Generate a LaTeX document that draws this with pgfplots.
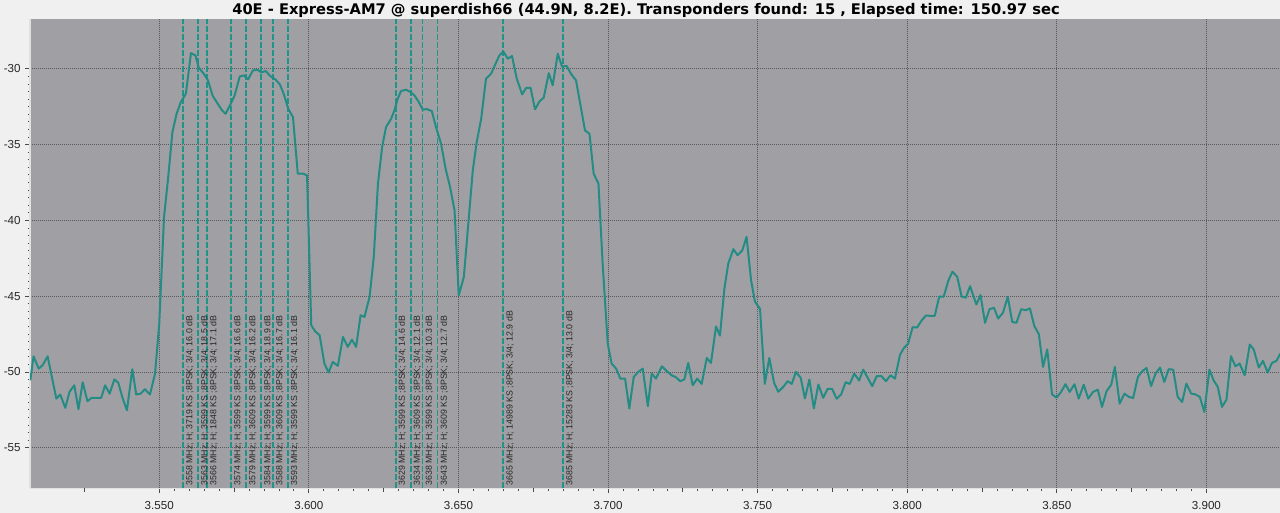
\documentclass[border=0pt]{standalone}
\usepackage{fontspec}
\setmainfont{Liberation Sans}
\newfontfamily\titlefont{DejaVu Sans}
\usepackage{pgfplots}
\pgfplotsset{compat=1.18}
\definecolor{qtgray}{HTML}{A0A0A4}
\definecolor{winbg}{HTML}{F0F0F0}
\definecolor{trace}{RGB}{36,140,132}
\definecolor{tpline}{RGB}{30,148,138}

% 1 px of the reference = 0.75pt; axis box origin = reference pixel (30, 488.5)
\begin{document}
\begin{tikzpicture}
\path[use as bounding box, fill=winbg] (-22.5pt,-18.375pt) rectangle (937.5pt,366.375pt);
\node[font=\titlefont\bfseries\fontsize{11}{13}\selectfont, anchor=base, inner sep=0pt] at (462pt,355.6pt)
  {40E - Express-AM7 @ superdish66 (44.9N, 8.2E). Transponders found: 15 , Elapsed time: 150.97 sec};
\begin{axis}[
  at={(0pt,0pt)}, anchor=south west,
  scale only axis, width=937.5pt, height=352.1pt,
  xmin=3.5068, xmax=3.9246, ymin=-57.69, ymax=-26.72,
  axis background/.style={fill=qtgray},
  axis x line*=bottom, axis y line*=left,
  axis line style={white!88!black, line width=1.2pt},
  xtick={3.55,3.60,3.65,3.70,3.75,3.80,3.85,3.90},
  xticklabels={3.550,3.600,3.650,3.700,3.750,3.800,3.850,3.900},
  extra x ticks={3.525,3.575,3.625,3.675,3.725,3.775,3.825,3.875},
  extra x tick labels={},
  extra x tick style={grid=none, major tick length=2.6pt},
  ytick={-55,-50,-45,-40,-35,-30},
  yticklabels={-55,-50,-45,-40,-35,-30},
  minor x tick num=9, minor y tick num=9,
  tick align=outside,
  major tick length=3.5pt, minor tick length=1.8pt,
  tick style={black!70, line width=0.6pt},
  grid=major,
  major grid style={black!65, line width=0.6pt, dash pattern=on 0.75pt off 0.75pt},
  ticklabel style={font=\fontsize{8.7}{10}\selectfont, text=black!85},
  xticklabel style={yshift=-2.6pt},
  clip=true,
]
% transponder markers
\pgfplotsinvokeforeach{3.558,3.563,3.566,3.574,3.579,3.584,3.588,3.593,3.629,3.634,3.638,3.643,3.665,3.685}{
  \addplot[tpline, line width=1.4pt, dash pattern=on 4.5pt off 1.5pt, forget plot] coordinates {(#1,-57.69) (#1,-26.72)};
}
\addplot[trace, line width=1.5pt, line join=round, mark=none] coordinates {
(3.5069,-50.55) (3.5080,-48.97) (3.5097,-49.78) (3.5110,-49.56) (3.5127,-48.97) (3.5141,-50.33)
(3.5156,-51.76) (3.5169,-51.49) (3.5186,-52.37) (3.5200,-51.32) (3.5216,-50.88) (3.5230,-52.46)
(3.5244,-50.68) (3.5260,-51.93) (3.5274,-51.71) (3.5306,-51.71) (3.5319,-50.88) (3.5334,-51.43)
(3.5350,-50.49) (3.5363,-50.71) (3.5378,-51.76) (3.5392,-52.53) (3.5410,-49.82) (3.5423,-51.49)
(3.5438,-51.43) (3.5452,-51.14) (3.5469,-51.49) (3.5486,-50.11) (3.5500,-46.81) (3.5516,-39.78)
(3.5530,-37.14) (3.5544,-34.18) (3.5558,-32.97) (3.5572,-32.20) (3.5589,-31.65) (3.5606,-28.97)
(3.5621,-29.12) (3.5632,-29.93) (3.5649,-30.33) (3.5663,-30.77) (3.5678,-31.76) (3.5694,-32.26)
(3.5710,-32.75) (3.5722,-32.97) (3.5738,-32.35) (3.5752,-31.76) (3.5769,-30.51) (3.5783,-30.44)
(3.5797,-30.70) (3.5813,-30.11) (3.5828,-30.07) (3.5841,-30.24) (3.5856,-30.15) (3.5871,-30.48)
(3.5888,-30.70) (3.5903,-31.03) (3.5916,-31.65) (3.5931,-32.64) (3.5947,-33.19) (3.5963,-36.92)
(3.5980,-36.92) (3.5994,-37.03) (3.6008,-46.92) (3.6021,-47.32) (3.6036,-47.58) (3.6052,-49.45)
(3.6066,-50.04) (3.6080,-49.34) (3.6097,-49.60) (3.6114,-47.69) (3.6130,-48.35) (3.6144,-47.87)
(3.6158,-48.35) (3.6173,-46.26) (3.6186,-46.37) (3.6203,-45.05) (3.6217,-42.42) (3.6231,-37.58)
(3.6245,-35.16) (3.6258,-33.85) (3.6275,-33.30) (3.6286,-32.75) (3.6297,-31.98) (3.6308,-31.47)
(3.6325,-31.38) (3.6340,-31.54) (3.6353,-31.76) (3.6366,-32.15) (3.6381,-32.70) (3.6394,-32.66)
(3.6411,-32.79) (3.6425,-33.85) (3.6442,-34.95) (3.6457,-36.59) (3.6472,-37.80) (3.6487,-39.34)
(3.6501,-44.95) (3.6518,-43.74) (3.6533,-40.22) (3.6548,-36.70) (3.6561,-34.84) (3.6576,-33.30)
(3.6592,-30.66) (3.6609,-30.33) (3.6624,-29.67) (3.6637,-29.12) (3.6650,-28.86) (3.6665,-29.34)
(3.6679,-29.16) (3.6695,-30.66) (3.6713,-31.69) (3.6726,-31.27) (3.6741,-31.25) (3.6756,-32.68)
(3.6771,-32.15) (3.6785,-31.91) (3.6802,-30.29) (3.6815,-31.10) (3.6832,-29.01) (3.6846,-29.85)
(3.6862,-29.82) (3.6876,-30.33) (3.6893,-30.77) (3.6908,-32.42) (3.6923,-34.07) (3.6938,-34.29)
(3.6952,-36.92) (3.6968,-37.58) (3.6982,-42.86) (3.6999,-48.13) (3.7012,-49.45) (3.7027,-49.78)
(3.7041,-50.44) (3.7057,-50.44) (3.7071,-52.42) (3.7086,-50.33) (3.7101,-50.00) (3.7116,-49.78)
(3.7133,-52.26) (3.7146,-50.11) (3.7160,-50.44) (3.7180,-49.63) (3.7197,-49.96) (3.7214,-50.24)
(3.7227,-50.35) (3.7241,-50.61) (3.7255,-50.50) (3.7268,-49.41) (3.7283,-50.88) (3.7298,-50.44)
(3.7313,-50.79) (3.7330,-49.08) (3.7344,-49.41) (3.7361,-47.00) (3.7374,-47.61) (3.7389,-44.49)
(3.7402,-42.84) (3.7419,-41.90) (3.7433,-42.30) (3.7449,-41.97) (3.7463,-41.09) (3.7478,-43.94)
(3.7491,-45.36) (3.7508,-45.84) (3.7524,-50.79) (3.7539,-49.08) (3.7555,-50.72) (3.7569,-51.31)
(3.7586,-50.98) (3.7600,-50.61) (3.7614,-50.79) (3.7628,-50.00) (3.7644,-50.39) (3.7658,-51.75)
(3.7673,-50.50) (3.7688,-52.41) (3.7703,-50.83) (3.7719,-51.71) (3.7734,-51.12) (3.7749,-51.12)
(3.7764,-51.77) (3.7779,-51.49) (3.7794,-50.68) (3.7808,-50.79) (3.7823,-50.11) (3.7839,-50.57)
(3.7853,-49.85) (3.7868,-50.39) (3.7883,-50.94) (3.7898,-50.28) (3.7914,-50.28) (3.7929,-50.61)
(3.7944,-50.22) (3.7959,-50.44) (3.7976,-48.86) (3.7989,-48.42) (3.8003,-48.14) (3.8018,-47.05)
(3.8033,-47.07) (3.8048,-46.61) (3.8062,-46.28) (3.8078,-46.30) (3.8092,-46.30) (3.8107,-45.03)
(3.8122,-45.03) (3.8137,-44.00) (3.8151,-43.39) (3.8167,-43.72) (3.8182,-45.03) (3.8196,-45.10)
(3.8210,-44.34) (3.8231,-45.55) (3.8245,-44.93) (3.8260,-46.76) (3.8275,-45.86) (3.8290,-45.77)
(3.8304,-46.48) (3.8320,-46.10) (3.8336,-45.04) (3.8351,-46.70) (3.8365,-46.76) (3.8381,-45.86)
(3.8396,-45.93) (3.8410,-45.81) (3.8425,-46.98) (3.8440,-47.51) (3.8454,-49.67) (3.8468,-48.52)
(3.8484,-51.48) (3.8499,-51.70) (3.8514,-51.32) (3.8529,-50.81) (3.8543,-51.32) (3.8559,-50.81)
(3.8573,-51.76) (3.8590,-50.84) (3.8605,-51.76) (3.8621,-51.32) (3.8637,-51.17) (3.8651,-52.31)
(3.8666,-51.28) (3.8682,-50.84) (3.8694,-49.67) (3.8710,-52.09) (3.8726,-51.43) (3.8741,-51.65)
(3.8755,-51.72) (3.8771,-50.33) (3.8785,-49.96) (3.8800,-49.74) (3.8815,-50.93) (3.8830,-50.11)
(3.8845,-49.71) (3.8859,-50.66) (3.8874,-49.82) (3.8889,-49.85) (3.8904,-51.65) (3.8919,-51.98)
(3.8933,-50.77) (3.8949,-51.43) (3.8963,-51.48) (3.8978,-51.65) (3.8993,-52.64) (3.9010,-49.85)
(3.9024,-50.55) (3.9038,-50.99) (3.9052,-52.31) (3.9067,-51.83) (3.9082,-48.96) (3.9097,-49.63)
(3.9111,-49.45) (3.9128,-50.22) (3.9145,-48.19) (3.9158,-48.52) (3.9175,-49.71) (3.9189,-49.27)
(3.9205,-50.04) (3.9219,-49.41) (3.9234,-49.27) (3.9247,-48.79)
};
% transponder labels
\begin{scope}[every node/.style={rotate=90, anchor=north west, inner sep=2pt, text=black!85,
    font=\fontsize{6.6}{7}\selectfont}]
\node at (axis cs:3.558,-57.69) {3558 MHz; H; 3719 KS ;8PSK; 3/4; 16.0 dB};
\node at (axis cs:3.563,-57.69) {3563 MHz; H; 3599 KS ;8PSK; 3/4; 18.5 dB};
\node at (axis cs:3.566,-57.69) {3566 MHz; H; 1848 KS ;8PSK; 3/4; 17.1 dB};
\node at (axis cs:3.574,-57.69) {3574 MHz; H; 3599 KS ;8PSK; 3/4; 16.6 dB};
\node at (axis cs:3.579,-57.69) {3579 MHz; H; 3609 KS ;8PSK; 3/4; 16.2 dB};
\node at (axis cs:3.584,-57.69) {3584 MHz; H; 3599 KS ;8PSK; 3/4; 18.9 dB};
\node at (axis cs:3.588,-57.69) {3588 MHz; H; 3609 KS ;8PSK; 3/4; 16.7 dB};
\node at (axis cs:3.593,-57.69) {3593 MHz; H; 3599 KS ;8PSK; 3/4; 16.1 dB};
\node at (axis cs:3.629,-57.69) {3629 MHz; H; 3599 KS ;8PSK; 3/4; 14.6 dB};
\node at (axis cs:3.634,-57.69) {3634 MHz; H; 3609 KS ;8PSK; 3/4; 12.1 dB};
\node at (axis cs:3.638,-57.69) {3638 MHz; H; 3599 KS ;8PSK; 3/4; 10.3 dB};
\node at (axis cs:3.643,-57.69) {3643 MHz; H; 3609 KS ;8PSK; 3/4; 12.7 dB};
\node at (axis cs:3.665,-57.69) {3665 MHz; H; 14989 KS ;8PSK; 3/4; 12.9 dB};
\node at (axis cs:3.685,-57.69) {3685 MHz; H; 15283 KS ;8PSK; 3/4; 13.0 dB};
\end{scope}
\end{axis}
\end{tikzpicture}
\end{document}
